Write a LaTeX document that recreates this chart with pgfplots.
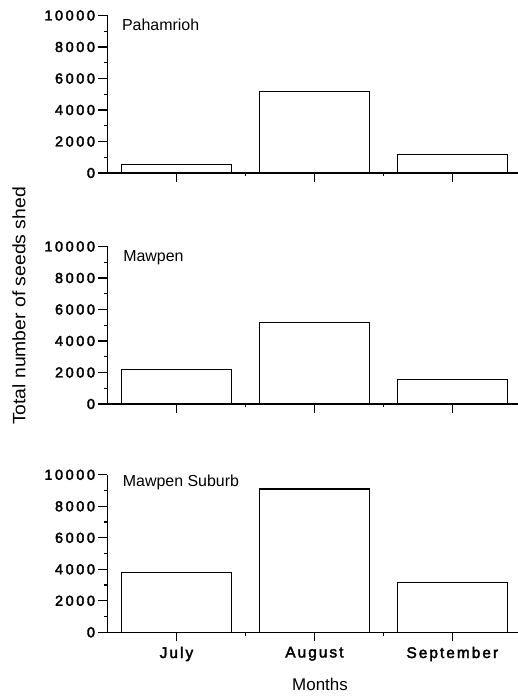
\documentclass[border=0pt]{standalone}
\usepackage{pgfplots}
\pgfplotsset{compat=1.18}
\usepackage{fontspec}
\setmainfont{Liberation Sans}
\newfontfamily\ytickfont{Liberation Sans}[LetterSpace=18,FakeBold=2.5]
\newfontfamily\xtickfont{Liberation Sans}[LetterSpace=13,FakeBold=2.5]
\newfontfamily\labfont{Liberation Sans}[FakeStretch=1.08]

\pgfplotsset{
 panel/.style={
  scale only axis, width=411bp, height=157.5bp,
  xmin=0.5, xmax=3.48, ymin=0, ymax=10000,
  axis x line*=bottom, axis y line*=left,
  xtick={1,2,3}, minor xtick={1.5,2.5},
  ytick={0,2000,4000,6000,8000,10000}, minor ytick={1000,3000,5000,7000,9000},
  tick align=outside,
  major tick length=9bp, minor tick length=3.5bp,
  xticklabels={},
  scaled y ticks=false,
  /pgf/number format/assume math mode=true,
  /pgf/number format/1000 sep={},
  yticklabel style={font=\ytickfont\fontsize{14.5}{14.5}\selectfont},
  xticklabel style={font=\xtickfont\fontsize{15.5}{15.5}\selectfont, yshift=-2bp},
  ybar, bar width=0.8, bar shift=0pt,
  axis line style={line width=1.3bp},
  every tick/.style={black, line width=1.1bp},
  clip=false,
 },
 bars/.style={draw=black, fill=white, line width=1.1bp},
}

\begin{document}
\begin{tikzpicture}
\begin{axis}[panel, at={(107.5bp,524bp)}, anchor=south west]
\addplot[bars] coordinates {(1,550) (2,5200) (3,1150)};
\node[anchor=west, inner sep=0pt, font=\fontsize{16}{16}\selectfont] at (rel axis cs:0.035,0.94) {Pahamrioh};
\end{axis}
\begin{axis}[panel, at={(107.5bp,293bp)}, anchor=south west]
\addplot[bars] coordinates {(1,2200) (2,5150) (3,1550)};
\node[anchor=west, inner sep=0pt, font=\fontsize{16}{16}\selectfont] at (rel axis cs:0.038,0.93) {Mawpen};
\end{axis}
\begin{axis}[panel, at={(107.5bp,64.7bp)}, anchor=south west,
  xticklabels={July,August,September}]
\addplot[bars] coordinates {(1,3800) (2,9100) (3,3150)};
\node[anchor=west, inner sep=0pt, font=\fontsize{16}{16}\selectfont] at (rel axis cs:0.037,0.95) {Mawpen Suburb};
\end{axis}
\node[rotate=90, font=\labfont\fontsize{18}{18}\selectfont] at (19bp,391bp) {Total number of seeds shed};
\node[font=\fontsize{17}{17}\selectfont] at (320bp,13bp) {Months};
\pgfresetboundingbox
\path[use as bounding box] (0,0) rectangle (518bp,697bp);
\end{tikzpicture}
\end{document}
